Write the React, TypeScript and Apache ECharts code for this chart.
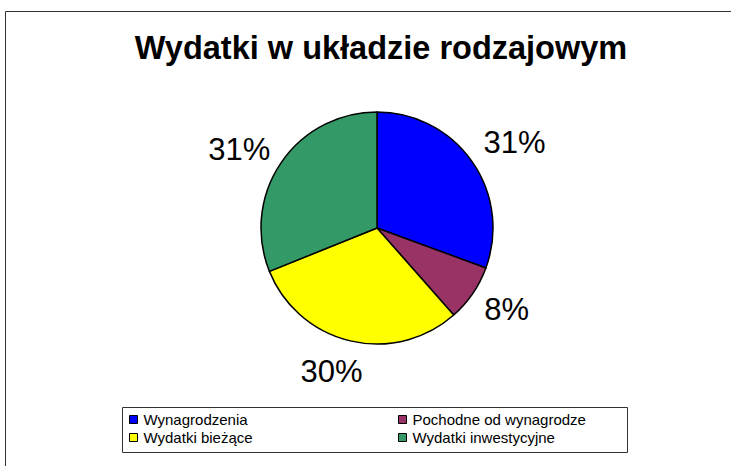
import React, { useEffect, useRef } from "react";
import * as echarts from "echarts";

const categories = ["Wynagrodzenia", "Pochodne od wynagrodze", "Wydatki bieżące", "Wydatki inwestycyjne"];
const values = [30.6, 7.9, 30.4, 31.1];
const colors = ["#0000FF", "#993366", "#FFFF00", "#339966"];
const titleText = "Wydatki w układzie rodzajowym";

export default function App() {
  const ref = useRef<HTMLDivElement>(null);
  useEffect(() => {
    document.body.style.margin = "0";
    const chart = echarts.init(ref.current!, null, { renderer: "svg" });
    const font = "Liberation Sans, Arial, sans-serif";
    const nudges = [
      { dx: -10, dy: -8 },
      { dx: -10, dy: 5 },
      { dx: 22, dy: 11 },
      { dx: 11, dy: -2 },
    ];
    const legendBase = {
      orient: "vertical",
      top: 412,
      padding: 0,
      itemWidth: 8,
      itemHeight: 8,
      itemGap: 3,
      icon: "rect",
      itemStyle: { borderColor: "#000", borderWidth: 1 },
      textStyle: { fontFamily: font, fontSize: 15, color: "#000", padding: [0, 0, 0, 1] },
      selectedMode: false,
    };
    chart.setOption({
      animation: false,
      backgroundColor: "#ffffff",
      title: {
        text: titleText,
        left: 376,
        top: 26,
        textAlign: "center",
        textStyle: { fontFamily: font, fontSize: 32.5, fontWeight: "bold", color: "#000" },
      },
      graphic: [
        {
          type: "rect",
          shape: { x: 5.5, y: 11.5, width: 800, height: 600 },
          style: { fill: "none", stroke: "#333", lineWidth: 1 },
          z: -1,
        },
        {
          type: "rect",
          shape: { x: 122.5, y: 407.5, width: 505, height: 45 },
          style: { fill: "none", stroke: "#333", lineWidth: 1 },
          z: -1,
        },
      ],
      legend: [
        { ...legendBase, data: [categories[0], categories[2]], left: 129 },
        { ...legendBase, data: [categories[1], categories[3]], left: 398 },
      ],
      series: [
        {
          type: "pie",
          center: [377, 228],
          radius: 116,
          startAngle: 90,
          clockwise: true,
          data: categories.map((c, i) => ({ name: c, value: values[i], itemStyle: { color: colors[i] } })),
          itemStyle: { borderColor: "#000", borderWidth: 1.5 },
          label: {
            show: true,
            position: "outside",
            formatter: (p: any) => Math.round(p.percent) + "%",
            fontFamily: font,
            fontSize: 31,
            color: "#000",
          },
          labelLine: { show: false, length: 20, length2: 0 },
          labelLayout: (p: any) => nudges[p.dataIndex],
          emphasis: { disabled: true },
        },
      ],
    });
    return () => chart.dispose();
  }, []);
  return <div ref={ref} style={{ width: 731, height: 466 }} />;
}
